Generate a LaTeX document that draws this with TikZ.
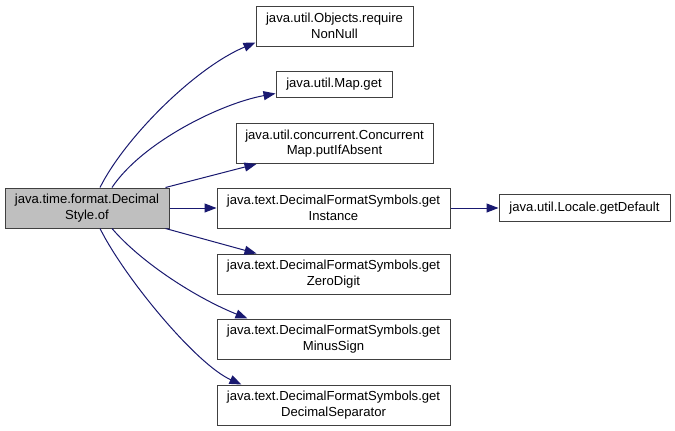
\documentclass[tikz,border=0pt]{standalone}
\usepackage{fontspec}
\setmainfont{Liberation Sans}
\usetikzlibrary{arrows.meta,calc}
\definecolor{edgecol}{HTML}{191970}
\definecolor{boxcol}{HTML}{404040}
\definecolor{mainfill}{HTML}{BFBFBF}
\begin{document}
\begin{tikzpicture}[x=1pt,y=-1pt,
  fn/.style={draw=boxcol,line width=1pt,fill=white,inner sep=0pt,align=center,
    font=\fontsize{13.1}{15.5}\selectfont},
  edge/.style={draw=edgecol,line width=1pt,-{Triangle[length=12pt,width=9pt]}}]
\useasboundingbox (0,0) rectangle (675,431);
\fill[white] (0,0) rectangle (675,431);
\node[fn,fill=mainfill,minimum width=164pt,minimum height=40pt] (main) at (87,208) {java.time.format.Decimal\\Style.of};
\node[fn,minimum width=157pt,minimum height=40pt] (n1) at (334.5,26) {java.util.Objects.require\\NonNull};
\node[fn,minimum width=116pt,minimum height=26pt] (n2) at (334,84) {java.util.Map.get};
\node[fn,minimum width=197pt,minimum height=40pt] (n3) at (334.5,143.5) {java.util.concurrent.Concurrent\\Map.putIfAbsent};
\node[fn,minimum width=233pt,minimum height=40pt] (n4) at (333.5,208) {java.text.DecimalFormatSymbols.get\\Instance};
\node[fn,minimum width=233pt,minimum height=40pt] (n5) at (333.5,274) {java.text.DecimalFormatSymbols.get\\ZeroDigit};
\node[fn,minimum width=233pt,minimum height=40pt] (n6) at (333.5,339) {java.text.DecimalFormatSymbols.get\\MinusSign};
\node[fn,minimum width=233pt,minimum height=40pt] (n7) at (333.5,405) {java.text.DecimalFormatSymbols.get\\DecimalSeparator};
\node[fn,minimum width=171pt,minimum height=27pt] (n8) at (584.5,208) {java.util.Locale.getDefault};
\draw[edge] ($(main.north)+(13,0)$) .. controls +(25,-50) and +(-60,25) .. ($(n1.south west)+(0,-4)$);
\draw[edge] ($(main.north)+(25,0)$) .. controls +(30,-45) and +(-55,10) .. ($(n2.south west)+(0,-4)$);
\draw[edge] ($(main.north east)+(-4,0)$) -- ($(n3.south west)+(21,0)$);
\draw[edge] (main.east) -- (n4.west);
\draw[edge] ($(main.south east)+(-4,0)$) -- ($(n5.north west)+(40,0)$);
\draw[edge] ($(main.south)+(25,0)$) .. controls +(30,35) and +(-50,-20) .. ($(n6.north west)+(31,0)$);
\draw[edge] ($(main.south)+(13,0)$) .. controls +(25,50) and +(-45,-20) .. ($(n7.north west)+(25,0)$);
\draw[edge] (n4.east) -- (n8.west);
\end{tikzpicture}
\end{document}
